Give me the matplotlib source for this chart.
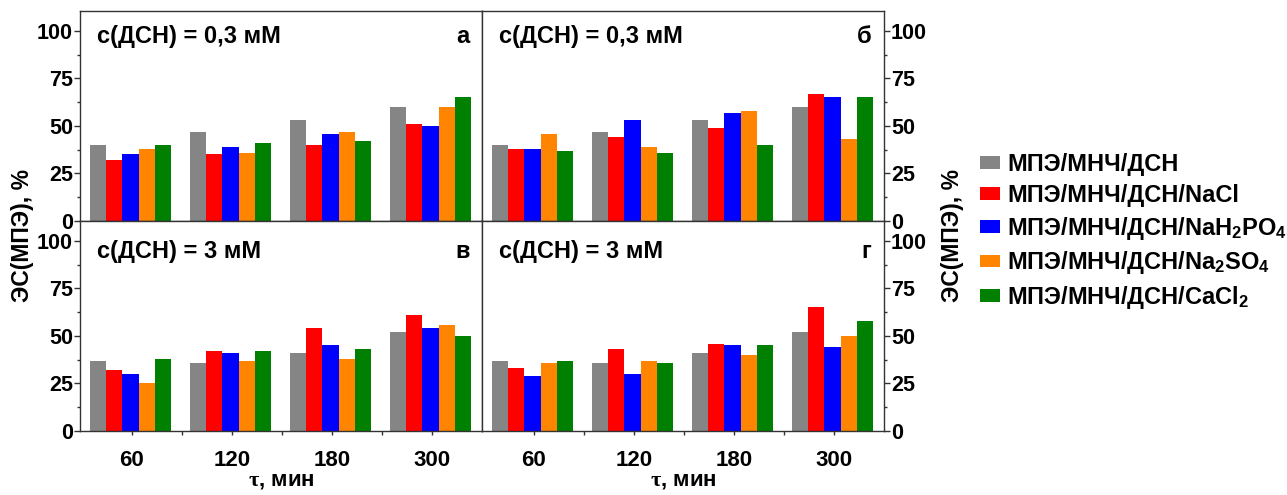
import matplotlib
matplotlib.use("Agg")
import matplotlib.pyplot as plt
import numpy as np
from matplotlib.ticker import MultipleLocator, FixedLocator
from matplotlib.patches import Patch

plt.rcParams['font.family'] = ['Liberation Sans', 'DejaVu Sans']
plt.rcParams['font.weight'] = 'bold'
plt.rcParams['mathtext.fontset'] = 'custom'
plt.rcParams['mathtext.rm'] = 'Liberation Sans:bold'
plt.rcParams['mathtext.bf'] = 'Liberation Sans:bold'
plt.rcParams['mathtext.it'] = 'Liberation Serif'

categories = ['60', '120', '180', '300']
series_names = [r'МПЭ/МНЧ/ДСН', r'МПЭ/МНЧ/ДСН/NaCl',
                r'МПЭ/МНЧ/ДСН/NaH$_\mathbf{2}$PO$_\mathbf{4}$',
                r'МПЭ/МНЧ/ДСН/Na$_\mathbf{2}$SO$_\mathbf{4}$',
                r'МПЭ/МНЧ/ДСН/CaCl$_\mathbf{2}$']
colors = ['#858585', '#ff0000', '#0000ff', '#ff8400', '#008000']

# panel а : c(ДСН)=0,3 мМ
a_vals = [[40, 47, 53, 60], [32, 35, 40, 51], [35, 39, 46, 50], [38, 36, 47, 60], [40, 41, 42, 65]]
# panel б : c(ДСН)=0,3 мМ
b_vals = [[40, 47, 53, 60], [38, 44, 49, 67], [38, 53, 57, 65], [46, 39, 58, 43], [37, 36, 40, 65]]
# panel в : c(ДСН)=3 мМ
v_vals = [[37, 36, 41, 52], [32, 42, 54, 61], [30, 41, 45, 54], [25, 37, 38, 56], [38, 42, 43, 50]]
# panel г : c(ДСН)=3 мМ
g_vals = [[37, 36, 41, 52], [33, 43, 46, 65], [29, 30, 45, 44], [36, 37, 40, 50], [37, 36, 45, 58]]

panels = [
    (a_vals, 'с(ДСН) = 0,3 мМ', 'а'),
    (b_vals, 'с(ДСН) = 0,3 мМ', 'б'),
    (v_vals, 'с(ДСН) = 3 мМ', 'в'),
    (g_vals, 'с(ДСН) = 3 мМ', 'г'),
]

W, H = 1287, 495
fig = plt.figure(figsize=(W / 100, H / 100), dpi=100)
L, M, R = 80 / W, 482 / W, 884 / W
T, C, B = 1 - 11 / H, 1 - 221 / H, 1 - 431 / H
rects = [(L, C, M - L, T - C), (M, C, R - M, T - C), (L, B, M - L, C - B), (M, B, R - M, C - B)]

x = np.arange(len(categories))
bw = 0.162
spine_col = '#333333'
for i, ((vals, title, letter), rect) in enumerate(zip(panels, rects)):
    ax = fig.add_axes(rect)
    for k, (s, c) in enumerate(zip(vals, colors)):
        ax.bar(x + (k - 2) * bw - 0.015, s, width=bw, color=c, edgecolor='none')
    ax.set_xlim(-0.52, 3.50)
    ax.set_ylim(0, 110.5)
    for sp in ax.spines.values():
        sp.set_color(spine_col)
        sp.set_linewidth(1.0)
    right = (i % 2 == 1)
    bottom = (i >= 2)
    ax.yaxis.set_major_locator(MultipleLocator(25))
    ax.yaxis.set_minor_locator(MultipleLocator(12.5))
    if right:
        ax.yaxis.tick_right()
        ax.yaxis.set_label_position('right')
    ax.tick_params(axis='y', which='major', direction='out', length=4, width=1,
                   labelsize=15.5, pad=1, color=spine_col)
    ax.tick_params(axis='y', which='minor', direction='out', length=2.5, width=1, color=spine_col)
    if bottom:
        ax.set_xticks(x)
        ax.set_xticklabels(categories)
        ax.xaxis.set_minor_locator(FixedLocator([0.5, 1.5, 2.5]))
        ax.tick_params(axis='x', which='major', direction='out', length=3, width=1,
                       labelsize=16, pad=11, color=spine_col)
        ax.tick_params(axis='x', which='minor', direction='out', length=3, width=1, color=spine_col)
        ax.set_xlabel(r'$\mathit{\tau}$, мин', fontsize=16, fontweight='bold', labelpad=-1)
    else:
        ax.set_xticks([])
    for lab in ax.get_xticklabels() + ax.get_yticklabels():
        lab.set_fontweight('bold')
    ty = 0.857 if bottom else 0.878
    ax.text(0.042, ty, title, transform=ax.transAxes, fontsize=17, fontweight='bold',
            ha='left', va='center')
    ax.text(0.969, ty, letter, transform=ax.transAxes, fontsize=17, fontweight='bold',
            ha='right', va='center')

fig.text(22 / W, 1 - 236 / H, 'ЭС(МПЭ), %', rotation=90, fontsize=16.5, fontweight='bold',
         ha='center', va='center')
fig.text(952 / W, 1 - 236 / H, 'ЭС(МПЭ), %', rotation=90, fontsize=16.5, fontweight='bold',
         ha='center', va='center')

handles = [Patch(facecolor=c, edgecolor='none') for c in colors]
leg = fig.legend(handles, series_names, loc='upper left', bbox_to_anchor=(980 / W, 1 - 153 / H),
                 frameon=False, fontsize=17, handlelength=0.85, handleheight=0.45,
                 handletextpad=0.3, labelspacing=0.33, borderpad=0, borderaxespad=0)
for t in leg.get_texts():
    t.set_fontweight('bold')

fig.savefig('out.png', dpi=100)
